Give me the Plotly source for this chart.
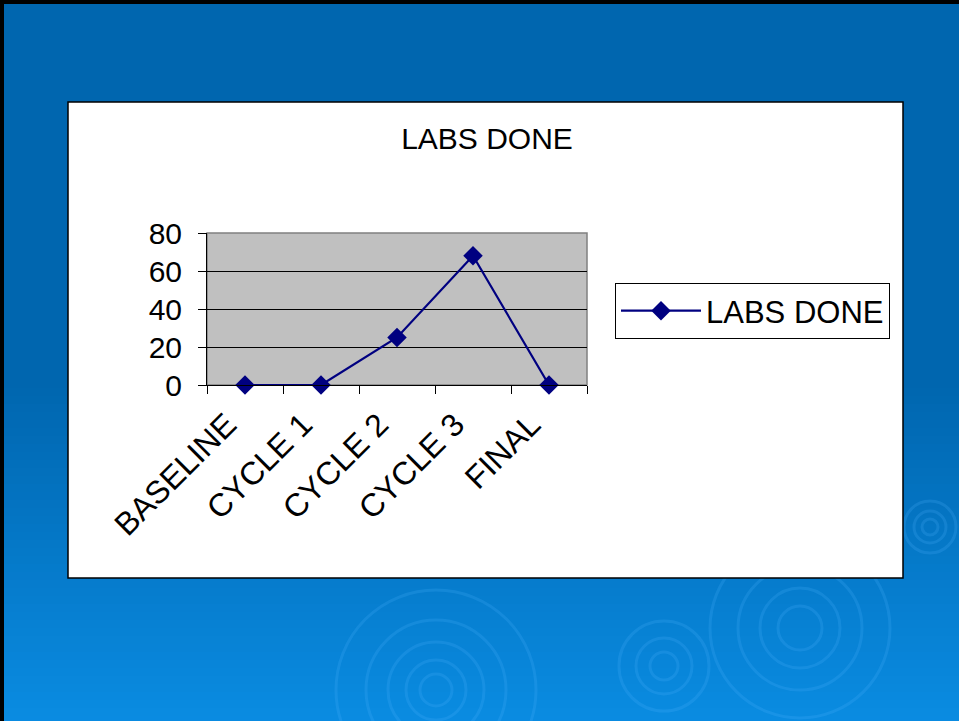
import plotly.graph_objects as go

categories = ["BASELINE", "CYCLE 1", "CYCLE 2", "CYCLE 3", "FINAL"]
labs_done = [0, 0, 25, 68, 0]
y_ticks = [0, 20, 40, 60, 80]
series_name = "LABS DONE"
chart_title = "LABS DONE"

W, H = 959, 721
L, R, T, B = 207, 587, 233, 385  # plot area pixel bounds
PW, PH = R - L, B - T

def px(x):
    return (x - L) / PW

def py(y):
    return (B - y) / PH

def lerp(c1, c2, t):
    return "#%02x%02x%02x" % tuple(int(round(a + (b - a) * t)) for a, b in zip(c1, c2))

shapes = []
# blue slide background with vertical gradient
top_c = (0, 102, 175)
bot_c = (10, 140, 226)
y_start = 4
band = 8
y = y_start
while y < H:
    y2 = min(y + band, H + 2)
    if y < 380:
        t = 0
    else:
        t = min(1, (y - 380) / (H - 380))
    col = lerp(top_c, bot_c, t)
    shapes.append(dict(type="rect", xref="paper", yref="paper", layer="below",
                       x0=px(4), x1=px(W + 2), y0=py(y2 + 1), y1=py(y),
                       fillcolor=col, line=dict(width=0)))
    y = y2

# faint ripple decorations
ripples = [(800, 628, [22, 40, 62, 90]), (664, 666, [14, 28, 45]),
           (436, 690, [16, 30, 48, 70, 100]), (930, 527, [8, 16, 26])]
for cx, cy, radii in ripples:
    for r in radii:
        shapes.append(dict(type="circle", xref="paper", yref="paper", layer="below",
                           x0=px(cx - r), x1=px(cx + r), y0=py(cy + r), y1=py(cy - r),
                           line=dict(color="rgba(80,180,255,0.2)", width=3)))

# white chart box
shapes.append(dict(type="rect", xref="paper", yref="paper", layer="below",
                   x0=px(68), x1=px(903), y0=py(578), y1=py(102),
                   fillcolor="white", line=dict(color="black", width=1.5)))
# gray plot area
shapes.append(dict(type="rect", xref="paper", yref="paper", layer="below",
                   x0=0, x1=1, y0=0, y1=1,
                   fillcolor="#C0C0C0", line=dict(color="#808080", width=1.5)))

fig = go.Figure()
fig.add_trace(go.Scatter(
    x=categories, y=labs_done, name=series_name, mode="lines+markers",
    line=dict(color="#000080", width=2.2),
    marker=dict(symbol="diamond", size=15, color="#000080"),
    cliponaxis=False,
))

font_family = "Liberation Sans, Arial, sans-serif"
FS = 30

fig.update_layout(
    width=W, height=H,
    margin=dict(l=L, r=W - R, t=T, b=H - B, pad=0),
    paper_bgcolor="black",
    plot_bgcolor="rgba(0,0,0,0)",
    shapes=shapes,
    font=dict(family=font_family, color="black", size=FS),
    title=dict(text=chart_title, x=px(487), xref="paper", xanchor="center",
               y=1 - 138 / H, yref="container", yanchor="middle",
               font=dict(size=FS, family=font_family, color="black")),
    showlegend=True,
    legend=dict(x=px(615), y=py(283), xanchor="left", yanchor="top",
                bgcolor="white", bordercolor="black", borderwidth=1,
                font=dict(size=31, family=font_family, color="black"),
                itemwidth=80),
    xaxis=dict(type="category", tickson="boundaries", ticks="outside", ticklen=8,
               tickcolor="black", showline=True, linecolor="black", linewidth=1,
               showgrid=False, tickangle=-45, range=[-0.5, 4.5],
               ticklabelstandoff=7, ticklabelshift=-18,
               tickfont=dict(size=32, family=font_family, color="black")),
    yaxis=dict(range=[0, 80], tickvals=y_ticks, ticks="outside", ticklen=8,
               tickcolor="black", showline=True, linecolor="black", linewidth=1,
               showgrid=True, gridcolor="black", gridwidth=1, zeroline=False,
               ticklabelstandoff=10,
               tickfont=dict(size=FS, family=font_family, color="black")),
)

fig.write_html("out.html", config={"displayModeBar": False},
               post_script="document.body.style.margin='0';document.body.style.overflow='hidden';")
